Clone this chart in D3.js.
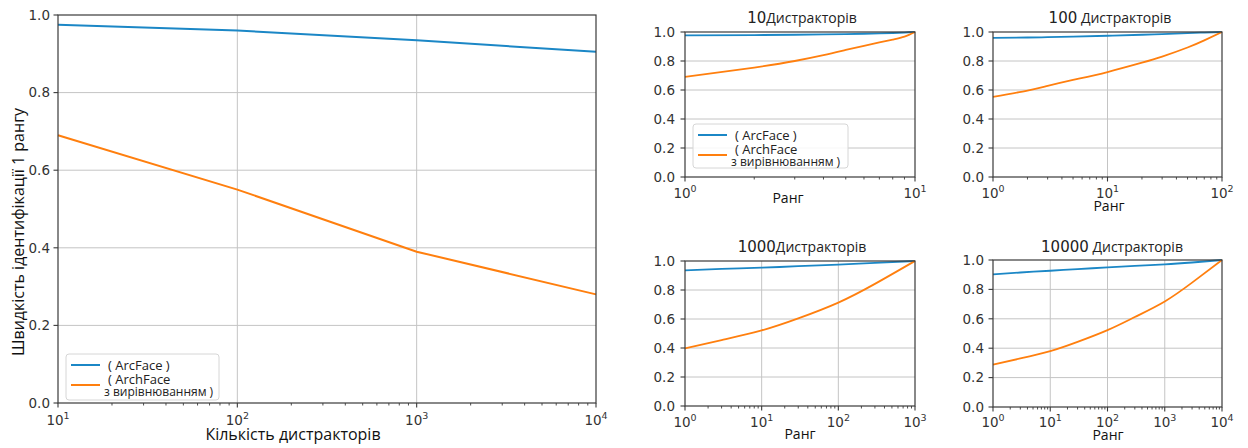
<!DOCTYPE html>
<html><head><meta charset="utf-8">
<script src="https://cdn.jsdelivr.net/npm/d3@7"></script>
<style>
html,body{margin:0;padding:0;background:#fff;}
svg{display:block;}
</style></head>
<body>
<svg id="chart" width="1248" height="448"></svg>
<script>
// ---------- DATA ----------
const mainDistractors = [10, 100, 1000, 10000];
const mainArcFace  = [0.975, 0.960, 0.935, 0.905];
const mainArchFace = [0.690, 0.550, 0.390, 0.280];

const ranks10 = [1, 2, 3, 4, 5, 6, 7, 8, 9, 10];
const arc10   = [0.977, 0.979, 0.981, 0.983, 0.985, 0.988, 0.990, 0.993, 0.996, 1.0];
const arch10  = [0.690, 0.755, 0.800, 0.840, 0.876, 0.905, 0.928, 0.948, 0.968, 1.0];

const ranks100 = [1, 2, 3, 5, 10, 20, 30, 50, 70, 100];
const arc100   = [0.960, 0.962, 0.964, 0.968, 0.974, 0.981, 0.986, 0.992, 0.996, 1.0];
const arch100  = [0.552, 0.596, 0.628, 0.669, 0.724, 0.788, 0.830, 0.893, 0.942, 1.0];

const ranks1000 = [1, 3, 10, 30, 100, 300, 1000];
const arc1000   = [0.936, 0.945, 0.954, 0.964, 0.975, 0.987, 1.0];
const arch1000  = [0.397, 0.455, 0.521, 0.604, 0.713, 0.842, 1.0];

const ranks10000 = [1, 3, 10, 30, 100, 300, 1000, 3000, 10000];
const arc10000   = [0.902, 0.915, 0.927, 0.938, 0.950, 0.960, 0.970, 0.983, 1.0];
const arch10000  = [0.289, 0.330, 0.380, 0.443, 0.523, 0.612, 0.718, 0.846, 1.0];

const yTicks = [0.0, 0.2, 0.4, 0.6, 0.8, 1.0];
const seriesNames = ["( ArcFace )", "( ArchFace", "з вирівнюванням )"];
const mainXLabel = "Кількість дистракторів";
const mainYLabel = "Швидкість ідентифікації 1 рангу";
const rankLabel = "Ранг";
const panelTitles = [["10", "Дистракторів"], ["100", " Дистракторів"], ["1000", "Дистракторів"], ["10000", " Дистракторів"]];

// ---------- STYLE ----------
const BLUE = "#1b87c6", ORANGE = "#ff7f0e";
const GRID = "#c4c4c4", SPINE = "#3a3a3a";
const NUMF = "DejaVu Sans, sans-serif";
const TXTF = "'Open Sans', 'Noto Sans', sans-serif";

const svg = d3.select("#chart");

function drawPanel(cfg) {
  const g = svg.append("g");
  const x = d3.scaleLog().domain(cfg.xDomain).range([cfg.x0, cfg.x1]);
  const y = d3.scaleLinear().domain([0, 1]).range([cfg.y1, cfg.y0]);
  const decades = [];
  for (let e = Math.round(Math.log10(cfg.xDomain[0])); e <= Math.round(Math.log10(cfg.xDomain[1])); e++) decades.push(Math.pow(10, e));
  // grid
  g.selectAll(".gx").data(decades.slice(1, -1)).enter().append("line")
    .attr("x1", d => x(d)).attr("x2", d => x(d)).attr("y1", cfg.y0).attr("y2", cfg.y1)
    .attr("stroke", GRID).attr("stroke-width", 1);
  g.selectAll(".gy").data(yTicks.slice(1, -1)).enter().append("line")
    .attr("x1", cfg.x0).attr("x2", cfg.x1).attr("y1", d => y(d)).attr("y2", d => y(d))
    .attr("stroke", GRID).attr("stroke-width", 1);
  // lines
  const line = d3.line().x(d => x(d[0])).y(d => y(d[1])).curve(cfg.curve);
  g.append("path").datum(cfg.xs.map((v, i) => [v, cfg.a[i]])).attr("d", line)
    .attr("fill", "none").attr("stroke", BLUE).attr("stroke-width", cfg.lw);
  g.append("path").datum(cfg.xs.map((v, i) => [v, cfg.b[i]])).attr("d", line)
    .attr("fill", "none").attr("stroke", ORANGE).attr("stroke-width", cfg.lw);
  // spines
  g.append("rect").attr("x", cfg.x0).attr("y", cfg.y0).attr("width", cfg.x1 - cfg.x0).attr("height", cfg.y1 - cfg.y0)
    .attr("fill", "none").attr("stroke", SPINE).attr("stroke-width", 1.2);
  // x ticks
  const minors = [];
  decades.slice(0, -1).forEach(d => { for (let k = 2; k <= 9; k++) minors.push(d * k); });
  g.selectAll(".mt").data(minors).enter().append("line")
    .attr("x1", d => x(d)).attr("x2", d => x(d)).attr("y1", cfg.y1).attr("y2", cfg.y1 + 2.5)
    .attr("stroke", SPINE).attr("stroke-width", 0.9);
  g.selectAll(".Mt").data(decades).enter().append("line")
    .attr("x1", d => x(d)).attr("x2", d => x(d)).attr("y1", cfg.y1).attr("y2", cfg.y1 + 4.5)
    .attr("stroke", SPINE).attr("stroke-width", 1.1);
  decades.forEach(d => {
    const t = g.append("text").attr("x", x(d)).attr("y", cfg.xTickBase).attr("text-anchor", "middle")
      .attr("font-family", NUMF).attr("font-size", 13.5).attr("fill", "#333");
    t.append("tspan").text("10");
    t.append("tspan").attr("dy", -6).attr("font-size", 9.5).text(String(Math.round(Math.log10(d))));
  });
  // y ticks
  g.selectAll(".yt").data(yTicks).enter().append("line")
    .attr("x1", cfg.x0 - 4.5).attr("x2", cfg.x0).attr("y1", d => y(d)).attr("y2", d => y(d))
    .attr("stroke", SPINE).attr("stroke-width", 1.1);
  g.selectAll(".yl").data(yTicks).enter().append("text")
    .attr("x", cfg.yLabX).attr("y", d => y(d)).attr("dy", "0.36em").attr("text-anchor", "end")
    .attr("font-family", NUMF).attr("font-size", 13.5).attr("fill", "#333")
    .text(d => d.toFixed(1));
  return g;
}

function drawLegend(g, bx, by, bw, bh, fs, fs2) {
  g.append("rect").attr("x", bx).attr("y", by).attr("width", bw).attr("height", bh).attr("rx", 3)
    .attr("fill", "#fff").attr("fill-opacity", 0.85).attr("stroke", "#d6d6d6").attr("stroke-width", 1);
  g.append("line").attr("x1", bx + 5).attr("x2", bx + 34).attr("y1", by + 11).attr("y2", by + 11)
    .attr("stroke", BLUE).attr("stroke-width", 2);
  g.append("line").attr("x1", bx + 5).attr("x2", bx + 34).attr("y1", by + 31).attr("y2", by + 31)
    .attr("stroke", ORANGE).attr("stroke-width", 2);
  g.append("text").attr("x", bx + 42).attr("y", by + 15.5).attr("font-family", TXTF).attr("font-size", fs)
    .attr("fill", "#222").text(seriesNames[0]);
  g.append("text").attr("x", bx + 42).attr("y", by + 30).attr("font-family", TXTF).attr("font-size", fs)
    .attr("fill", "#222").text(seriesNames[1]);
  g.append("text").attr("x", bx + 38).attr("y", by + 42).attr("font-family", TXTF).attr("font-size", fs2)
    .attr("fill", "#222").text(seriesNames[2]);
}

// ---------- MAIN ----------
const gm = drawPanel({xDomain: [10, 10000], x0: 58, x1: 596, y0: 15, y1: 403,
  xs: mainDistractors, a: mainArcFace, b: mainArchFace, lw: 2, xTickBase: 425, yLabX: 50, curve: d3.curveLinear});
drawLegend(gm, 66, 354, 153, 46, 13, 12);
gm.append("text").attr("x", 293).attr("y", 440).attr("text-anchor", "middle")
  .attr("font-family", TXTF).attr("font-size", 16).attr("fill", "#111").text(mainXLabel);
gm.append("text").attr("transform", "translate(24,232) rotate(-90)").attr("text-anchor", "middle")
  .attr("font-family", TXTF).attr("font-size", 16).attr("fill", "#111").text(mainYLabel);

// ---------- SUB PANELS ----------
const panels = [
  {xDomain: [1, 10], x0: 685, x1: 915, y0: 32, y1: 177, xs: ranks10, a: arc10, b: arch10, xTickBase: 198, yLabX: 675, title: 0, tx: 802, ty: 23, rx: 788, ry: 203},
  {xDomain: [1, 100], x0: 993, x1: 1222, y0: 32, y1: 177, xs: ranks100, a: arc100, b: arch100, xTickBase: 198, yLabX: 984, title: 1, tx: 1110, ty: 23, rx: 1109, ry: 211},
  {xDomain: [1, 1000], x0: 685, x1: 915, y0: 261, y1: 406, xs: ranks1000, a: arc1000, b: arch1000, xTickBase: 427, yLabX: 675, title: 2, tx: 802, ty: 252, rx: 800, ry: 439},
  {xDomain: [1, 10000], x0: 993, x1: 1222, y0: 260, y1: 407, xs: ranks10000, a: arc10000, b: arch10000, xTickBase: 427, yLabX: 984, title: 3, tx: 1112, ty: 252, rx: 1108, ry: 440}
];
panels.forEach((p, i) => {
  p.lw = 1.8;
  p.curve = d3.curveNatural;
  const g = drawPanel(p);
  const t = g.append("text").attr("x", p.tx).attr("y", p.ty).attr("text-anchor", "middle").attr("fill", "#222");
  t.append("tspan").attr("font-family", NUMF).attr("font-size", 15).text(panelTitles[p.title][0]);
  t.append("tspan").attr("font-family", TXTF).attr("font-size", 14).text(panelTitles[p.title][1]);
  g.append("text").attr("x", p.rx).attr("y", p.ry).attr("text-anchor", "middle")
    .attr("font-family", TXTF).attr("font-size", 14).attr("fill", "#111").text(rankLabel);
  if (i === 0) drawLegend(g, 693, 124, 155, 44, 13, 12);
});
</script>
</body></html>
